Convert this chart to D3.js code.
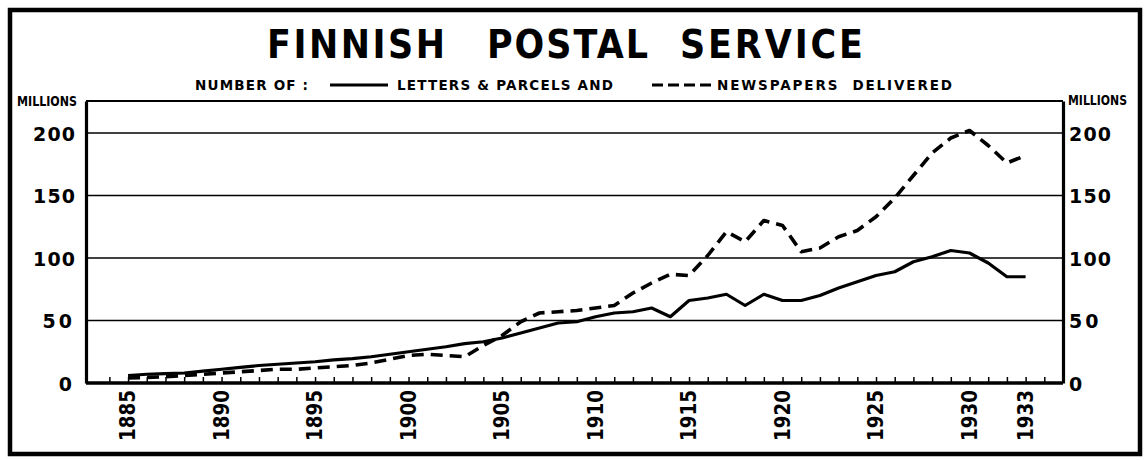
<!DOCTYPE html>
<html>
<head>
<meta charset="utf-8">
<script src="https://cdn.jsdelivr.net/npm/d3@7"></script>
<style>
  body { margin: 0; background: #fff; }
  text { font-family: "DejaVu Sans", sans-serif; font-weight: bold; fill: #000; }
</style>
</head>
<body>
<script>
// Data (millions)
const years = d3.range(1885, 1934);
const letters = [6, 7, 7.5, 8, 9.5, 11, 12.5, 14, 15, 16,
                 17, 18.5, 19.5, 21, 23, 25, 27, 29, 31.5, 33,
                 36, 40, 44, 48, 49, 53, 56, 57, 60, 53,
                 66, 68, 71, 62, 71, 66, 66, 70, 76, 81,
                 86, 89, 97, 101, 106, 104, 96, 85, 85];
const newspapers = [4, 4.5, 5, 6, 7, 8, 9, 10, 11, 11,
                    12, 13, 14, 16, 19, 22, 23, 22, 21, 30,
                    38, 49, 56, 57, 58, 60, 62, 72, 80, 87,
                    86, 102, 121, 113, 130, 126, 105, 108, 117, 122,
                    133, 148, 166, 184, 196, 202, 190, 176, 182];
const yTicks = [0, 50, 100, 150, 200];
const yearLabels = [1885, 1890, 1895, 1900, 1905, 1910, 1915, 1920, 1925, 1930, 1933];
const titleWords = ["FINNISH", "POSTAL", "SERVICE"];

const W = 1145, H = 460;
const margin = { top: 101, right: 82, bottom: 77, left: 86 };
const width = W - margin.left - margin.right;
const height = H - margin.top - margin.bottom;

const svg = d3.select("body").append("svg")
  .attr("width", W)
  .attr("height", H);

// outer frame
svg.append("rect")
  .attr("x", 10).attr("y", 10)
  .attr("width", 1130).attr("height", 444)
  .attr("fill", "none").attr("stroke", "#000").attr("stroke-width", 4.5);

// title, one word at a time to get the wide gaps
const titlePos = [[267, 178], [487, 161], [680, 183]];
svg.selectAll(".title").data(titleWords).enter().append("text")
  .attr("x", (d, i) => titlePos[i][0]).attr("y", 58)
  .attr("font-size", 35)
  .attr("transform", "translate(0,-7) scale(1,1.12)")
  .attr("textLength", (d, i) => titlePos[i][1])
  .attr("lengthAdjust", "spacing")
  .text(d => d);

// legend
const leg = svg.append("g").attr("font-size", 13.5);
leg.append("text").attr("x", 195).attr("y", 90)
  .attr("textLength", 113).attr("lengthAdjust", "spacing").text("NUMBER OF :");
leg.append("line").attr("x1", 330).attr("x2", 388).attr("y1", 85).attr("y2", 85)
  .attr("stroke", "#000").attr("stroke-width", 3);
leg.append("text").attr("x", 397).attr("y", 90)
  .attr("textLength", 216).attr("lengthAdjust", "spacing").text("LETTERS & PARCELS AND");
leg.append("line").attr("x1", 652).attr("x2", 712).attr("y1", 85).attr("y2", 85)
  .attr("stroke", "#000").attr("stroke-width", 3).attr("stroke-dasharray", "11,5");
leg.append("text").attr("x", 717).attr("y", 90)
  .attr("textLength", 235).attr("lengthAdjust", "spacing").attr("xml:space", "preserve")
  .text("NEWSPAPERS  DELIVERED");

const g = svg.append("g")
  .attr("transform", "translate(" + margin.left + "," + margin.top + ")");

const x = d3.scaleLinear().domain([1882.75, 1935]).range([0, width]);
const y = d3.scaleLinear().domain([0, 225.6]).range([height, 0]);

// grid lines
g.selectAll(".grid").data(yTicks.filter(d => d > 0)).enter().append("line")
  .attr("x1", 0).attr("x2", width)
  .attr("y1", d => y(d)).attr("y2", d => y(d))
  .attr("stroke", "#000").attr("stroke-width", 1.6);

// top of the plot frame
g.append("line").attr("x1", 0).attr("x2", width).attr("y1", 0).attr("y2", 0)
  .attr("stroke", "#000").attr("stroke-width", 2.2);

// y axes on both sides
const yLeft = d3.axisLeft(y).tickValues(yTicks).tickSize(0).tickPadding(11);
const yRight = d3.axisRight(y).tickValues(yTicks).tickSize(0).tickPadding(6);
const gl = g.append("g").call(yLeft);
const gr = g.append("g").attr("transform", "translate(" + width + ",0)").call(yRight);
[gl, gr].forEach(a => {
  a.select(".domain").attr("stroke", "#000").attr("stroke-width", 3.2);
  a.selectAll("text").attr("font-size", 19).attr("dy", "0.37em")
    .attr("textLength", 42).attr("lengthAdjust", "spacing")
    .style("font-family", "DejaVu Sans").style("font-weight", "bold");
});
gl.selectAll("text").filter(d => d < 100).attr("textLength", null).attr("letter-spacing", 3);
gr.selectAll("text").filter(d => d < 100).attr("textLength", null).attr("letter-spacing", 3);

// x axis: small inward ticks each year
const xAxis = d3.axisTop(x).tickValues(d3.range(1884, 1935)).tickSize(6).tickFormat("");
const gx = g.append("g").attr("transform", "translate(0," + height + ")").call(xAxis);
gx.select(".domain").remove();
gx.selectAll("line").attr("stroke", "#000").attr("stroke-width", 1.5);
g.append("line").attr("x1", 0).attr("x2", width).attr("y1", height).attr("y2", height)
  .attr("stroke", "#000").attr("stroke-width", 3.5);

// year labels, rotated
g.selectAll(".yr").data(yearLabels).enter().append("text")
  .attr("transform", d => "translate(" + (x(d) + 7) + "," + (height + 7) + ") rotate(-90)")
  .attr("text-anchor", "end")
  .attr("font-size", 21)
  .attr("textLength", 51)
  .attr("lengthAdjust", "spacingAndGlyphs")
  .text(d => d);

// MILLIONS labels
svg.append("text").attr("x", 17).attr("y", 106)
  .attr("font-size", 14).attr("textLength", 60).attr("lengthAdjust", "spacingAndGlyphs")
  .text("MILLIONS");
svg.append("text").attr("x", 1068).attr("y", 105)
  .attr("font-size", 14).attr("textLength", 59).attr("lengthAdjust", "spacingAndGlyphs")
  .text("MILLIONS");

// series lines
const line = d3.line().x((d, i) => x(years[i])).y(d => y(d));
g.append("path").datum(letters).attr("d", line)
  .attr("fill", "none").attr("stroke", "#000").attr("stroke-width", 3.2)
  .attr("stroke-linejoin", "round");
g.append("path").datum(newspapers).attr("d", line)
  .attr("fill", "none").attr("stroke", "#000").attr("stroke-width", 3.6)
  .attr("stroke-dasharray", "12,7").attr("stroke-linejoin", "round");
</script>
</body>
</html>
